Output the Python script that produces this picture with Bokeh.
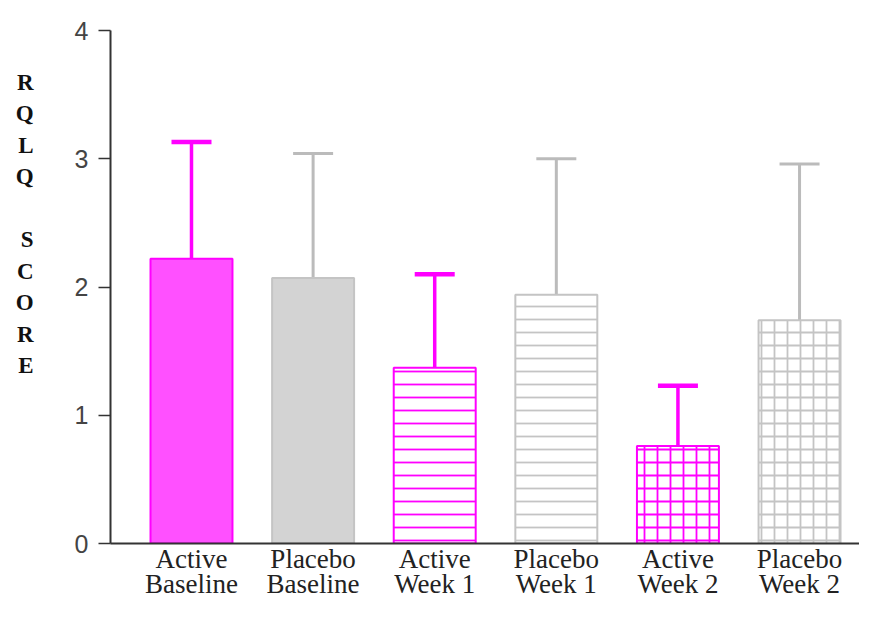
from bokeh.plotting import figure
from bokeh.models import ColumnDataSource, Range1d, FixedTicker, Whisker, TeeHead
from bokeh.embed import file_html
from bokeh.resources import INLINE

# ---- data ----
categories = ["Active\nBaseline", "Placebo\nBaseline", "Active\nWeek 1",
              "Placebo\nWeek 1", "Active\nWeek 2", "Placebo\nWeek 2"]
groups = ["Active", "Placebo", "Active", "Placebo", "Active", "Placebo"]
means = [2.22, 2.07, 1.37, 1.94, 0.76, 1.74]
errors = [0.91, 0.97, 0.73, 1.06, 0.47, 1.22]
fill_colors = ["#FF50FF", "#D3D3D3", "#FFFFFF", "#FFFFFF", "#FFFFFF", "#FFFFFF"]
line_colors = ["#FF00FF", "#C4C4C4", "#FF00FF", "#C4C4C4", "#FF00FF", "#C4C4C4"]
hatches = [" ", " ", "-", "-", "+", "+"]
y_ticks = [0, 1, 2, 3, 4]
y_title = "R\nQ\nL\nQ\n\nS\nC\nO\nR\nE\n\n\n\n "

MAGENTA = "#FF00FF"
GRAY = "#BBBBBB"

xs = list(range(1, len(categories) + 1))
upper = [m + e for m, e in zip(means, errors)]

src = ColumnDataSource(dict(x=xs, top=means, fill=fill_colors, line=line_colors,
                            hatch=hatches))

p = figure(width=859, height=602, output_backend="svg", toolbar_location=None,
           x_range=Range1d(0.334, 6.493), y_range=Range1d(0, 4),
           min_border_left=110, min_border_right=0, min_border_top=30,
           min_border_bottom=57)
p.outline_line_color = None
p.xgrid.visible = False
p.ygrid.visible = False
p.background_fill_color = "white"

p.vbar(x="x", top="top", width=0.674, bottom=0, source=src,
       fill_color="fill", line_color="line", line_width=2,
       hatch_pattern="hatch", hatch_color="line", hatch_scale=13,
       hatch_weight=1.8)

for grp, col, lw in (("Active", MAGENTA, 4.5), ("Placebo", GRAY, 3)):
    idx = [i for i, g in enumerate(groups) if g == grp]
    wsrc = ColumnDataSource(dict(x=[xs[i] for i in idx],
                                 lo=[means[i] for i in idx],
                                 hi=[upper[i] for i in idx]))
    w = Whisker(base="x", lower="lo", upper="hi", source=wsrc,
                line_color=col, line_width=lw - 1 if grp == "Active" else lw,
                lower_head=None,
                upper_head=TeeHead(size=40, line_color=col, line_width=lw))
    p.add_layout(w)

# x axis
xa = p.xaxis[0]
xa.ticker = FixedTicker(ticks=xs)
xa.major_label_overrides = {x: c for x, c in zip(xs, categories)}
xa.major_label_text_font = "Liberation Serif"
xa.major_label_text_font_size = "27px"
xa.major_label_text_color = "#222222"
xa.major_label_text_line_height = 0.86
xa.major_label_standoff = 0
xa.major_tick_out = 0
xa.major_tick_in = 0
xa.minor_tick_out = 0
xa.minor_tick_in = 0
xa.axis_line_color = "#333333"
xa.axis_line_width = 2

# y axis
ya = p.yaxis[0]
ya.ticker = FixedTicker(ticks=y_ticks)
ya.major_label_text_font = "Liberation Sans"
ya.major_label_text_font_size = "25px"
ya.major_label_text_color = "#444444"
ya.major_label_standoff = 10
ya.major_tick_out = 12
ya.major_tick_in = 0
ya.major_tick_line_color = "#333333"
ya.major_tick_line_width = 1.5
ya.minor_tick_out = 0
ya.minor_tick_in = 0
ya.axis_line_color = "#333333"
ya.axis_line_width = 2
ya.axis_label = y_title
ya.axis_label_orientation = "horizontal"
ya.axis_label_text_font = "Liberation Serif"
ya.axis_label_text_font_style = "bold"
ya.axis_label_text_font_size = "23px"
ya.axis_label_text_line_height = 1.26
ya.axis_label_text_color = "#111111"
ya.axis_label_standoff = 38

open("out.html", "w").write(file_html(p, INLINE))
